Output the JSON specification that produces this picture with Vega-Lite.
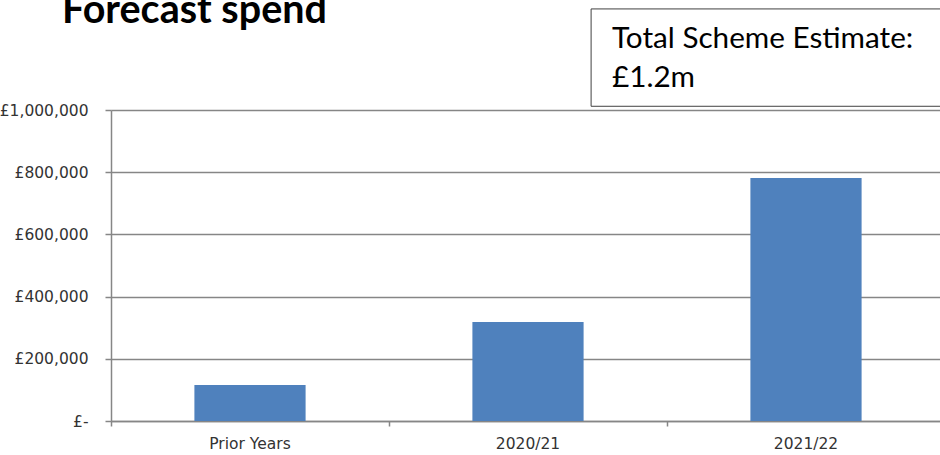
{
  "$schema": "https://vega.github.io/schema/vega-lite/v6.json",
  "width": 834,
  "height": 311,
  "autosize": {"type": "none"},
  "padding": {"left": 111, "top": 110, "right": 0, "bottom": 34},
  "background": "white",
  "config": {"view": {"stroke": null}, "font": "DejaVu Sans"},
  "datasets": {
    "spend": [
      {"period": "Prior Years", "spend": 116000},
      {"period": "2020/21", "spend": 318000},
      {"period": "2021/22", "spend": 781000}
    ],
    "notes": [
      {"kind": "title", "text": "Forecast spend"},
      {"kind": "box", "text": "Total Scheme Estimate:|£1.2m"}
    ]
  },
  "layer": [
    {
      "data": {"name": "spend"},
      "mark": {"type": "bar", "color": "#4F81BD"},
      "encoding": {
        "x": {
          "field": "period",
          "type": "nominal",
          "sort": null,
          "scale": {"paddingInner": 0.6, "paddingOuter": 0.3},
          "axis": {
            "orient": "bottom",
            "title": null,
            "labelAngle": 0,
            "grid": false,
            "bandPosition": -0.75,
            "ticks": true,
            "tickSize": 5,
            "tickColor": "#868686",
            "tickWidth": 1.5,
            "domainColor": "#868686",
            "domainWidth": 1.5,
            "labelFont": "DejaVu Sans",
            "labelFontSize": 15.5,
            "labelColor": "#333333",
            "labelPadding": 10
          }
        },
        "y": {
          "field": "spend",
          "type": "quantitative",
          "scale": {"domain": [0, 1000000]},
          "axis": {
            "title": null,
            "values": [0, 200000, 400000, 600000, 800000, 1000000],
            "labelExpr": "datum.value == 0 ? '£-  ' : '£' + format(datum.value, ',')",
            "tickSize": 6,
            "tickColor": "#868686",
            "tickWidth": 1.5,
            "domainColor": "#868686",
            "domainWidth": 1.5,
            "grid": true,
            "gridColor": "#868686",
            "gridWidth": 1.5,
            "labelFont": "DejaVu Sans",
            "labelFontSize": 15.5,
            "labelColor": "#333333",
            "labelPadding": 17
          }
        }
      }
    },
    {
      "data": {"name": "notes"},
      "transform": [{"filter": "datum.kind == 'box'"}],
      "mark": {"type": "rect", "fill": "white", "stroke": "#404040", "strokeWidth": 1},
      "encoding": {
        "x": {"datum": 1.727, "type": "quantitative", "scale": {"domain": [0, 3]}, "axis": null},
        "x2": {"datum": 3.1},
        "y": {"datum": 1325000, "type": "quantitative"},
        "y2": {"datum": 1012000}
      }
    },
    {
      "data": {"name": "notes"},
      "transform": [{"filter": "datum.kind == 'box'"}],
      "mark": {"type": "text", "font": "Lato", "fontSize": 29.7, "color": "#000000", "align": "left", "baseline": "alphabetic", "lineBreak": "|", "lineHeight": 39},
      "encoding": {
        "x": {"datum": 1.802, "type": "quantitative", "scale": {"domain": [0, 3]}, "axis": null},
        "y": {"datum": 1199000, "type": "quantitative"},
        "text": {"field": "text"}
      }
    },
    {
      "data": {"name": "notes"},
      "transform": [{"filter": "datum.kind == 'title'"}],
      "mark": {"type": "text", "font": "Lato", "fontWeight": "bold", "fontSize": 39.5, "color": "#000000", "align": "left", "baseline": "alphabetic"},
      "encoding": {
        "x": {"datum": -0.176, "type": "quantitative", "scale": {"domain": [0, 3]}, "axis": null},
        "y": {"datum": 1279700, "type": "quantitative"},
        "text": {"field": "text"}
      }
    }
  ],
  "resolve": {"scale": {"x": "independent"}, "axis": {"x": "independent"}}
}
